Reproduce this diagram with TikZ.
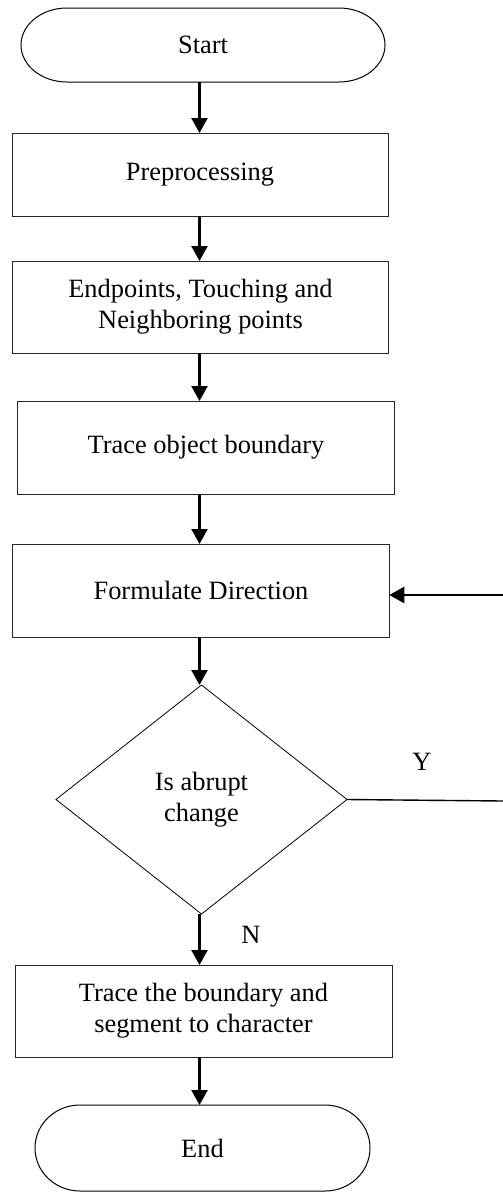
\documentclass[tikz,border=0pt]{standalone}
\usepackage{fontspec}
\setmainfont{Liberation Serif}
\usetikzlibrary{arrows.meta,shapes.geometric}
\begin{document}
\begin{tikzpicture}[x=1pt,y=1pt,
  txt/.style={font=\fontsize{26.4pt}{31pt}\selectfont,align=center},
  box/.style={txt,draw=black!85,line width=1pt,inner sep=0pt,outer sep=0pt},
  term/.style={txt,inner sep=0pt,outer sep=0pt},
  termline/.style={draw=black,line width=1pt},
  dia/.style={txt,diamond,draw=black,line width=0.8pt,inner sep=0pt,outer sep=0pt},
  arr/.style={line width=2.4pt,-{Triangle[length=15pt,width=16pt]}},
  yline/.style={line width=1.4pt},
  lbl/.style={txt}
]
\useasboundingbox (0,0) rectangle (503,-1192);
\coordinate (cx) at (199.5,0);

% terminals
\node[term,minimum width=364pt,minimum height=74pt] (start) at (203,-45) {Start};
\draw[termline] ([xshift=46pt]start.north west) -- ([xshift=-46pt]start.north east)
  arc[start angle=90,end angle=-90,x radius=46pt,y radius=37pt]
  -- ([xshift=46pt]start.south west)
  arc[start angle=270,end angle=90,x radius=46pt,y radius=37pt] -- cycle;

\node[term,minimum width=335pt,minimum height=86pt] (end) at (202.5,-1148) {End};
\draw[termline] ([xshift=45pt]end.north west) -- ([xshift=-45pt]end.north east)
  arc[start angle=90,end angle=-90,x radius=45pt,y radius=43pt]
  -- ([xshift=45pt]end.south west)
  arc[start angle=270,end angle=90,x radius=45pt,y radius=43pt] -- cycle;

% process boxes
\node[box,minimum width=376pt,minimum height=83pt] (pre) at (200,-174.5) {Preprocessing};
\node[box,minimum width=376pt,minimum height=92pt] (endp) at (200.5,-307) {Endpoints, Touching and\\Neighboring points};
\node[box,minimum width=376.5pt,minimum height=93pt] (tob) at (206,-447.5) {Trace object boundary};
\node[box,minimum width=376.5pt,minimum height=93pt] (fd) at (201,-590.5) {Formulate Direction};
\node[dia,minimum width=291pt,minimum height=229pt] (dec) at (201.5,-799.5) {Is abrupt\\change};
\node[box,minimum width=377pt,minimum height=92pt] (tbs) at (203.5,-1011) {Trace the boundary and\\segment to character};

% labels
\node[lbl] (ylab) at (422,-762) {Y};
\node[lbl] (nlab) at (251,-935) {N};

% connectors
\draw[arr] (start.south -| cx) -- (pre.north -| cx);
\draw[arr] (pre.south -| cx) -- (endp.north -| cx);
\draw[arr] (endp.south -| cx) -- (tob.north -| cx);
\draw[arr] (tob.south -| cx) -- (fd.north -| cx);
\draw[arr] (fd.south -| cx) -- (dec.north -| cx);
\draw[arr] (dec.south -| cx) -- (tbs.north -| cx);
\draw[arr] (tbs.south -| cx) -- (end.north -| cx);

\coordinate (ya) at (503,-801);
\coordinate (yb) at (503,-595);
\draw[yline] (dec.east) -- (ya);
\draw[arr] (yb) -- (fd.east |- yb);
\end{tikzpicture}
\end{document}
